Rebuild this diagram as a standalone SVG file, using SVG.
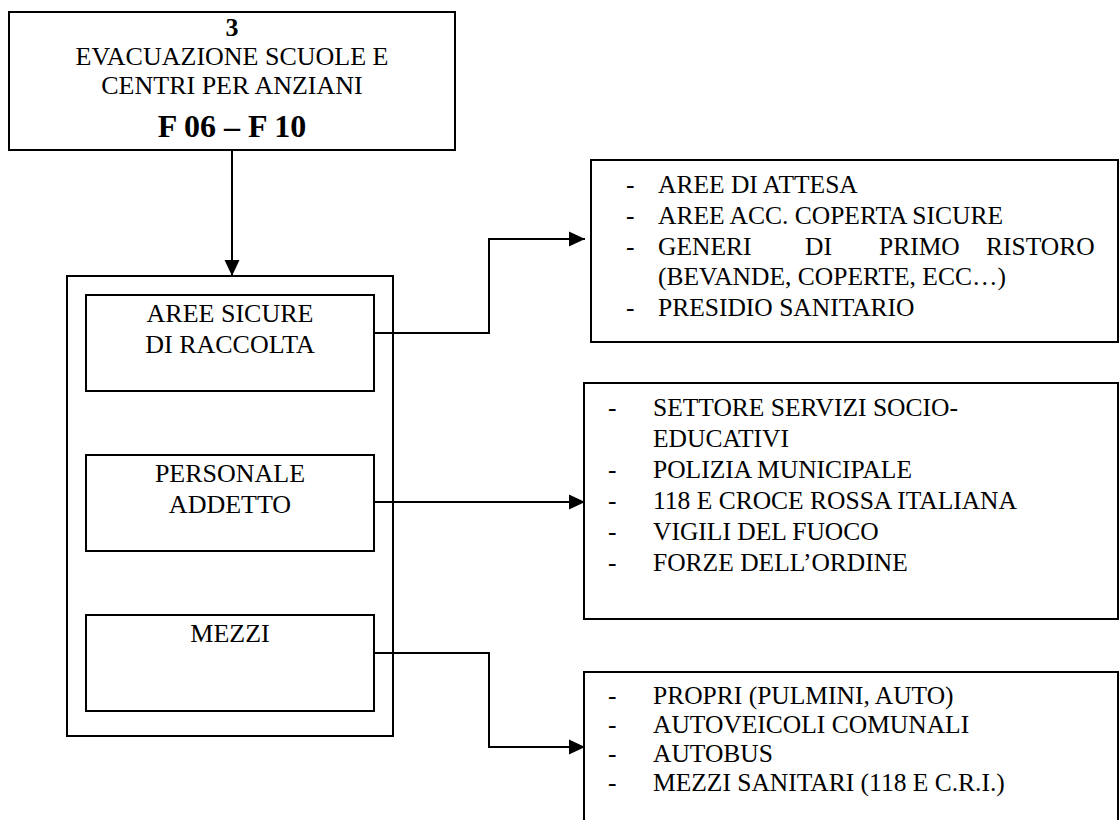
<svg xmlns="http://www.w3.org/2000/svg" width="1120" height="820" viewBox="0 0 1120 820">
<defs>
<style>
.box{fill:none;stroke:#000;stroke-width:2}
.t{font-family:"Liberation Serif","Times New Roman",serif;font-size:25.5px;fill:#000}
.tl{font-family:"Liberation Serif","Times New Roman",serif;font-size:26px;fill:#000;text-anchor:middle}
.b{font-weight:bold}
.c{fill:none;stroke:#000;stroke-width:2}
</style>
<marker id="ah" markerWidth="16" markerHeight="16" viewBox="0 0 16 16" refX="16" refY="8" orient="auto" markerUnits="userSpaceOnUse">
<path d="M0,0.5 L16,8 L0,15.5 Z" fill="#000"/>
</marker>
</defs>
<rect width="1120" height="820" fill="#fff"/>

<g id="connectors">
<path class="c" d="M232,150 V276" marker-end="url(#ah)"/>
<path class="c" d="M374,333 H489 V239 H585" marker-end="url(#ah)"/>
<path class="c" d="M374,502 H585" marker-end="url(#ah)"/>
<path class="c" d="M374,653 H489 V747 H585" marker-end="url(#ah)"/>
</g>

<g id="node-title">
<rect class="box" x="9" y="12" width="446" height="138"/>
<text class="tl b" x="232" y="36">3</text>
<text class="tl" x="232" y="65">EVACUAZIONE SCUOLE E</text>
<text class="tl" x="232" y="94">CENTRI PER ANZIANI</text>
<text class="tl b" x="232" y="137" style="font-size:32px">F 06 – F 10</text>
</g>

<g id="node-group">
<rect class="box" x="67" y="276" width="326" height="460"/>
</g>

<g id="node-aree">
<rect class="box" x="86" y="295" width="288" height="96"/>
<text class="tl" x="230" y="322">AREE SICURE</text>
<text class="tl" x="230" y="353">DI RACCOLTA</text>
</g>

<g id="node-personale">
<rect class="box" x="86" y="455" width="288" height="96"/>
<text class="tl" x="230" y="482">PERSONALE</text>
<text class="tl" x="230" y="513">ADDETTO</text>
</g>

<g id="node-mezzi">
<rect class="box" x="86" y="615" width="288" height="96"/>
<text class="tl" x="230" y="642">MEZZI</text>
</g>

<g id="node-list-aree">
<rect class="box" x="591" y="160" width="527" height="182"/>
<text class="t" x="626" y="193">-</text><text class="t" x="658" y="193">AREE DI ATTESA</text>
<text class="t" x="626" y="224">-</text><text class="t" x="658" y="224">AREE ACC. COPERTA SICURE</text>
<text class="t" x="626" y="255">-</text>
<text class="t" y="255"><tspan x="658">GENERI</tspan><tspan x="805">DI</tspan><tspan x="879">PRIMO</tspan><tspan x="986">RISTORO</tspan></text>
<text class="t" x="658" y="285">(BEVANDE, COPERTE, ECC…)</text>
<text class="t" x="626" y="316">-</text><text class="t" x="658" y="316">PRESIDIO SANITARIO</text>
</g>

<g id="node-list-personale">
<rect class="box" x="584" y="383" width="534" height="236"/>
<text class="t" x="608" y="416">-</text><text class="t" x="653" y="416">SETTORE SERVIZI SOCIO-</text>
<text class="t" x="653" y="447">EDUCATIVI</text>
<text class="t" x="608" y="478">-</text><text class="t" x="653" y="478">POLIZIA MUNICIPALE</text>
<text class="t" x="608" y="509">-</text><text class="t" x="653" y="509">118 E CROCE ROSSA ITALIANA</text>
<text class="t" x="608" y="540">-</text><text class="t" x="653" y="540">VIGILI DEL FUOCO</text>
<text class="t" x="608" y="571">-</text><text class="t" x="653" y="571">FORZE DELL’ORDINE</text>
</g>

<g id="node-list-mezzi">
<rect class="box" x="584" y="672" width="534" height="160"/>
<text class="t" x="608" y="704">-</text><text class="t" x="653" y="704">PROPRI (PULMINI, AUTO)</text>
<text class="t" x="608" y="733">-</text><text class="t" x="653" y="733">AUTOVEICOLI COMUNALI</text>
<text class="t" x="608" y="762">-</text><text class="t" x="653" y="762">AUTOBUS</text>
<text class="t" x="608" y="791">-</text><text class="t" x="653" y="791">MEZZI SANITARI (118 E C.R.I.)</text>
</g>
</svg>
